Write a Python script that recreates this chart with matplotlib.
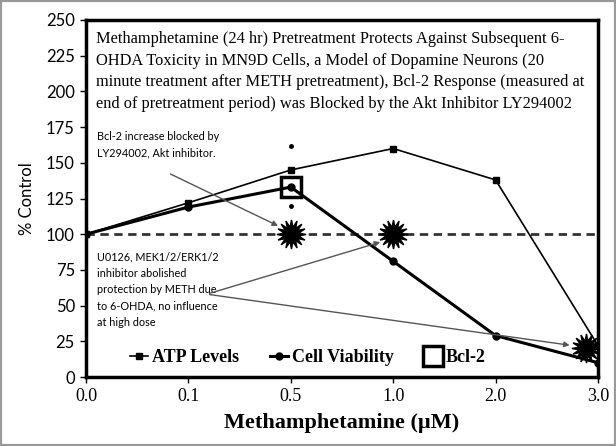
import numpy as np
import matplotlib.pyplot as plt
from matplotlib.patches import Rectangle

# data
doses = ["0.0", "0.1", "0.5", "1.0", "2.0", "3.0"]
atp_levels = [100, 122, 145, 160, 138, 22]
cell_viability = [100, 119, 133, 81, 29, 10]
bcl2_x = [2]
bcl2_y = [133]
bcl2_err_y = [162, 120]
inhib_x = [2, 3, 4.88]
inhib_y = [100, 100, 20]

SERIF = "Liberation Serif"
SANS = "Lato"

title_text = ("Methamphetamine (24 hr) Pretreatment Protects Against Subsequent 6-\n"
              "OHDA Toxicity in MN9D Cells, a Model of Dopamine Neurons (20\n"
              "minute treatment after METH pretreatment), Bcl-2 Response (measured at\n"
              "end of pretreatment period) was Blocked by the Akt Inhibitor LY294002")
note_ly = "Bcl-2 increase blocked by\nLY294002, Akt inhibitor."
note_u0126 = ("U0126, MEK1/2/ERK1/2\ninhibitor abolished\nprotection by METH due\n"
              "to 6-OHDA, no influence\nat high dose")

x = np.arange(len(doses))

fig = plt.figure(figsize=(6.16, 4.46), dpi=100)
ax = fig.add_axes([86/616, 1-377/446, 512/616, 357/446])

ax.axhline(100, color="#333333", linestyle=(0, (3, 2)), linewidth=2, zorder=1)

ax.plot(x, atp_levels, color="black", linewidth=1.2, marker="s", markersize=5,
        label="ATP Levels", zorder=3)
ax.plot(x, cell_viability, color="black", linewidth=2.2, marker="o", markersize=5,
        label="Cell Viability", zorder=3)
ax.plot(bcl2_x, bcl2_y, linestyle="none", marker="s", markersize=14,
        markerfacecolor="none", markeredgecolor="black", markeredgewidth=2.5,
        label="Bcl-2", zorder=4)
ax.plot([2, 2], bcl2_err_y, linestyle="none", marker="o", markersize=2.5,
        color="black", zorder=3)
ax.plot(inhib_x, inhib_y, linestyle="none", marker=(16, 1, 0), markersize=21,
        color="black", zorder=5)

ax.set_xlim(0, 5)
ax.set_ylim(0, 250)
ax.set_yticks(np.arange(0, 251, 25))
ax.set_xticks(x)
ax.set_xticklabels(doses, fontfamily=SERIF, fontsize=13)
for lab in ax.get_yticklabels():
    lab.set_fontfamily(SANS)
    lab.set_fontsize(12)
ax.tick_params(axis="both", direction="out", length=4, width=1, pad=4)
for s in ax.spines.values():
    s.set_linewidth(2.5)

ax.set_ylabel("% Control", fontfamily=SANS, fontsize=12, labelpad=8)
ax.set_xlabel("Methamphetamine (\u00b5M)", fontfamily=SERIF, fontsize=16,
              fontweight="bold", labelpad=6)

ax.text(0.1, 242, title_text, fontfamily=SERIF, fontsize=11.8, va="top",
        ha="left", linespacing=1.45)

ax.text(0.11, 172, note_ly, fontfamily=SANS, fontsize=7.8, va="top",
        ha="left", linespacing=1.6)
ax.annotate("", xy=(1.9, 105), xytext=(0.8, 143),
            arrowprops=dict(arrowstyle="-|>", color="#555555", lw=1,
                            mutation_scale=8))

ax.text(0.11, 88, note_u0126, fontfamily=SANS, fontsize=7.8, va="top",
        ha="left", linespacing=1.6)
ax.annotate("", xy=(2.9, 95), xytext=(1.18, 58),
            arrowprops=dict(arrowstyle="-|>", color="#555555", lw=1,
                            mutation_scale=8))
ax.annotate("", xy=(4.75, 22), xytext=(1.18, 58),
            arrowprops=dict(arrowstyle="-|>", color="#555555", lw=1,
                            mutation_scale=8))

leg = ax.legend(loc="lower left", bbox_to_anchor=(0.055, -0.015), ncol=3,
                frameon=False, handlelength=1.0, handletextpad=0.2,
                columnspacing=1.7, prop={"family": SERIF, "weight": "bold",
                                         "size": 13})

fig.patches.append(Rectangle((0, 0), 1, 1, transform=fig.transFigure,
                             fill=False, edgecolor="#999999", linewidth=3))

fig.savefig("out.png", dpi=100)
plt.close(fig)
